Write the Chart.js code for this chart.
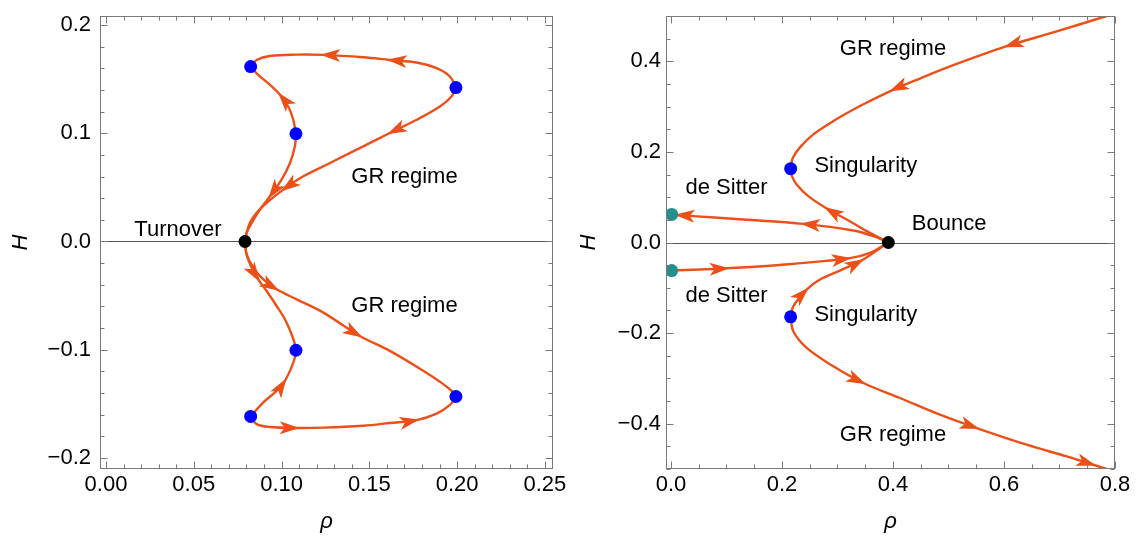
<!DOCTYPE html>
<html>
<head>
<meta charset="utf-8">
<script src="https://cdn.jsdelivr.net/npm/chart.js@4.4.1/dist/chart.umd.min.js"></script>
<style>
  body { margin: 0; background: #fff; }
  .panel { position: absolute; top: 0; width: 568px; height: 539px; }
</style>
</head>
<body>
<div class="panel" style="left:0"><canvas id="leftChart" width="568" height="539"></canvas></div>
<div class="panel" style="left:568px"><canvas id="rightChart" width="568" height="539"></canvas></div>
<script>
// ---- tick values and labels ----
const leftRhoTicks = [0, 0.05, 0.1, 0.15, 0.2, 0.25];
const leftRhoLabels = ['0.00', '0.05', '0.10', '0.15', '0.20', '0.25'];
const leftHTicks = [-0.2, -0.1, 0, 0.1, 0.2];
const leftHLabels = ['\u22120.2', '\u22120.1', '0.0', '0.1', '0.2'];
const rightRhoTicks = [0, 0.2, 0.4, 0.6, 0.8];
const rightRhoLabels = ['0.0', '0.2', '0.4', '0.6', '0.8'];
const rightHTicks = [-0.4, -0.2, 0, 0.2, 0.4];
const rightHLabels = ['\u22120.4', '\u22120.2', '0.0', '0.2', '0.4'];

// ---- left panel trajectories [rho, H], in the direction of flow ----
const upOuterTop = [[0.1993,0.1422],[0.1959,0.1524],[0.1883,0.1601],[0.1769,0.1653],[0.1617,0.1677],[0.1465,0.1702],[0.1238,0.1724],[0.1086,0.1726],[0.0934,0.1714],[0.0858,0.1677],[0.0824,0.1616]];
const upInnerUp = [[0.1082,0.0995],[0.1067,0.1124],[0.1038,0.1247],[0.0991,0.1355],[0.0934,0.1447],[0.0867,0.1539],[0.0824,0.1616]];
const upInnerDown = [[0.1082,0.0995],[0.1076,0.0879],[0.1048,0.0725],[0.1000,0.0571],[0.0934,0.0418],[0.0877,0.0295],[0.0830,0.0172],[0.0801,0.0080],[0.0792,0]];
const upOuterDown = [[0.1993,0.1422],[0.1968,0.1339],[0.1902,0.1247],[0.1769,0.1124],[0.1617,0.1002],[0.1465,0.0879],[0.1276,0.0725],[0.1124,0.0602],[0.1010,0.0479],[0.0915,0.0357],[0.0858,0.0265],[0.0820,0.0172],[0.0801,0.0080],[0.0792,0]];
const lowOuterBottom = [[0.0824,-0.1616],[0.0858,-0.1687],[0.0934,-0.1714],[0.1086,-0.1723],[0.1238,-0.1720],[0.1465,-0.1702],[0.1617,-0.1677],[0.1769,-0.1650],[0.1883,-0.1590],[0.1959,-0.1510],[0.1993,-0.1432]];
const lowInnerUp = [[0.0824,-0.1616],[0.0896,-0.1487],[0.0972,-0.1380],[0.1019,-0.1287],[0.1052,-0.1180],[0.1076,-0.1072],[0.1082,-0.1005]];
const lowInnerDown = [[0.0792,0],[0.0801,-0.0120],[0.0830,-0.0243],[0.0867,-0.0350],[0.0915,-0.0458],[0.0972,-0.0596],[0.1019,-0.0719],[0.1057,-0.0857],[0.1076,-0.0949],[0.1082,-0.1005]];
const lowOuterDown = [[0.0792,0],[0.0801,-0.0120],[0.0839,-0.0243],[0.0896,-0.0350],[0.0972,-0.0442],[0.1086,-0.0535],[0.1238,-0.0657],[0.1446,-0.0873],[0.1617,-0.1011],[0.1807,-0.1195],[0.1921,-0.1318],[0.1978,-0.1394],[0.1993,-0.1432]];
const leftSingDots = [[0.0824,0.1616],[0.1082,0.0995],[0.1993,0.1422],[0.0824,-0.1616],[0.1082,-0.1005],[0.1993,-0.1432]];
const leftTurnover = [[0.0792,0]];

// ---- right panel trajectories ----
const upGR = [[0.800,0.506],[0.785,0.500],[0.6889,0.4638],[0.6048,0.4333],[0.5087,0.3913],[0.4486,0.3620],[0.3980,0.3360],[0.3405,0.3012],[0.2925,0.2681],[0.2565,0.2387],[0.2324,0.2100],[0.2192,0.1860],[0.2156,0.1629]];
const bounceToUpSing = [[0.3916,0],[0.3526,0.0250],[0.3166,0.0508],[0.2805,0.0751],[0.2474,0.1023],[0.2264,0.1282],[0.2180,0.1465],[0.2156,0.1629]];
const bounceToUpDS = [[0.3916,0],[0.3646,0.0140],[0.3285,0.0265],[0.2384,0.0412],[0.1303,0.0508],[0.0402,0.0582],[0.0120,0.0608],[0.0012,0.0619]];
const lowDSToBounce = [[-0.0108,-0.0619],[0.0012,-0.0619],[0.1000,-0.0570],[0.1904,-0.0501],[0.3200,-0.0350],[0.3586,-0.0228],[0.3916,0]];
const lowSingToBounce = [[0.2156,-0.1640],[0.2204,-0.1407],[0.2444,-0.1039],[0.2685,-0.0818],[0.3045,-0.0619],[0.3435,-0.0398],[0.3706,-0.0177],[0.3916,0]];
const lowSingToGR = [[0.2156,-0.1640],[0.2204,-0.1960],[0.2445,-0.2328],[0.2925,-0.2733],[0.3465,-0.3101],[0.4126,-0.3433],[0.4847,-0.3801],[0.5508,-0.4096],[0.6408,-0.4464],[0.7129,-0.4722],[0.7610,-0.4906],[0.800,-0.506]];
const rightSingDots = [[0.2156,0.1629],[0.2156,-0.1640]];
const rightBounce = [[0.3916,0]];
const rightDeSitter = [[0.0012,0.0619],[0.0012,-0.0619]];

const curveColor = 'rgb(236,80,24)';
const frameColor = '#7a7a7a';

Chart.defaults.font.family = "'Liberation Sans', Arial, sans-serif";
Chart.defaults.font.size = 22;
Chart.defaults.color = '#000';

const toXY = pts => pts.map(p => ({ x: p[0], y: p[1] }));

function curve(pts, arrowAt) {
  return {
    data: toXY(pts), showLine: true, borderColor: curveColor, borderWidth: 2.4,
    pointRadius: 0, tension: 0.35, fill: false, arrowAt: arrowAt, order: 2
  };
}
function dots(pts, color) {
  return {
    data: toXY(pts), showLine: false, pointRadius: 6.5, pointBackgroundColor: color,
    pointBorderWidth: 0, order: 1
  };
}

function drawArrow(ctx, x, y, dx, dy) {
  const d = Math.hypot(dx, dy) || 1, ux = dx / d, uy = dy / d;
  const L = 17, W = 6.5, N = 12;
  ctx.beginPath();
  ctx.moveTo(x + ux * 3, y + uy * 3);
  ctx.lineTo(x - ux * L - uy * W, y - uy * L + ux * W);
  ctx.lineTo(x - ux * N, y - uy * N);
  ctx.lineTo(x - ux * L + uy * W, y - uy * L - ux * W);
  ctx.closePath();
  ctx.fill();
}

// zero line, arrowheads, frame with inward ticks, and text labels
const phasePlugin = {
  id: 'phase',
  beforeDatasetsDraw(chart, args, opts) {
    const { ctx, chartArea: a, scales: { x, y } } = chart;
    ctx.save();
    ctx.strokeStyle = '#555';
    ctx.lineWidth = 1;
    const y0 = Math.round(y.getPixelForValue(0)) + 0.5;
    ctx.beginPath(); ctx.moveTo(a.left, y0); ctx.lineTo(a.right, y0); ctx.stroke();
    ctx.fillStyle = curveColor;
    chart.data.datasets.forEach(ds => {
      (ds.arrowAt || []).forEach(i => {
        const p = ds.data;
        const px = k => [x.getPixelForValue(p[k].x), y.getPixelForValue(p[k].y)];
        const b = px(Math.max(i - 1, 0)), f = px(Math.min(i + 1, p.length - 1)), t = px(i);
        drawArrow(ctx, t[0], t[1], f[0] - b[0], f[1] - b[1]);
      });
    });
    ctx.restore();
  },
  afterDraw(chart, args, opts) {
    const { ctx, chartArea: a, scales: { x, y } } = chart;
    ctx.save();
    ctx.strokeStyle = frameColor;
    ctx.lineWidth = 1;
    const L = Math.round(a.left) + 0.5, R = Math.round(a.right) - 0.5;
    const T = Math.round(a.top) + 0.5, B = Math.round(a.bottom) - 0.5;
    ctx.strokeRect(L, T, R - L, B - T);
    ctx.beginPath();
    const eps = 1e-9;
    for (let k = Math.ceil(x.min / opts.xMinor - eps); k * opts.xMinor <= x.max + eps; k++) {
      const v = k * opts.xMinor;
      const r = v / opts.xMajor, len = Math.abs(r - Math.round(r)) < 1e-6 ? 7 : 4;
      const p = Math.round(x.getPixelForValue(v)) + 0.5;
      ctx.moveTo(p, B); ctx.lineTo(p, B - len);
      ctx.moveTo(p, T); ctx.lineTo(p, T + len);
    }
    for (let k = Math.ceil(y.min / opts.yMinor - eps); k * opts.yMinor <= y.max + eps; k++) {
      const v = k * opts.yMinor;
      const r = v / opts.yMajor, len = Math.abs(r - Math.round(r)) < 1e-6 ? 7 : 4;
      const p = Math.round(y.getPixelForValue(v)) + 0.5;
      ctx.moveTo(L, p); ctx.lineTo(L + len, p);
      ctx.moveTo(R, p); ctx.lineTo(R - len, p);
    }
    ctx.stroke();
    ctx.fillStyle = '#000';
    ctx.font = "22px 'Liberation Sans', Arial, sans-serif";
    ctx.textAlign = 'center';
    ctx.textBaseline = 'middle';
    opts.labels.forEach(l => ctx.fillText(l.text, x.getPixelForValue(l.x), y.getPixelForValue(l.y)));
    ctx.restore();
  }
};

function makeOptions(cfg) {
  return {
    responsive: false,
    animation: false,
    layout: { padding: { top: 16, right: cfg.padRight, left: 0, bottom: 0 } },
    plugins: {
      legend: { display: false },
      tooltip: { enabled: false },
      phase: cfg.phase
    },
    scales: {
      x: {
        type: 'linear', min: cfg.xMin, max: cfg.xMax,
        grid: { display: false, drawTicks: false }, border: { display: false },
        afterBuildTicks: s => { s.ticks = cfg.xTicks.map(v => ({ value: v })); },
        afterFit: s => { s.height = 70; s.paddingLeft = 0; s.paddingRight = 0; },
        ticks: { padding: 3, maxRotation: 0, autoSkip: false, callback: (v, i) => cfg.xLabels[i] },
        title: { display: true, text: '\u03C1', font: { style: 'italic', size: 22 }, padding: { top: 0, bottom: 4 } }
      },
      y: {
        type: 'linear', min: cfg.yMin, max: cfg.yMax,
        grid: { display: false, drawTicks: false }, border: { display: false },
        afterBuildTicks: s => { s.ticks = cfg.yTicks.map(v => ({ value: v })); },
        afterFit: s => { s.width = cfg.yWidth; s.paddingTop = 0; s.paddingBottom = 0; },
        ticks: { padding: cfg.yPad, autoSkip: false, callback: (v, i) => cfg.yLabels[i] },
        title: { display: true, text: 'H', font: { style: 'italic', size: 22 }, padding: { top: 8, bottom: 0 } }
      }
    }
  };
}

// Left panel: turnover
new Chart(document.getElementById('leftChart'), {
  type: 'scatter',
  data: {
    datasets: [
      curve(upOuterTop, [4, 6]),
      curve(upInnerUp, [3]),
      curve(upInnerDown, [4]),
      curve(upOuterDown, [4, 8]),
      curve(lowOuterBottom, [3, 7]),
      curve(lowInnerUp, [3]),
      curve(lowInnerDown, [3]),
      curve(lowOuterDown, [4, 7]),
      dots(leftSingDots, '#0000ff'),
      dots(leftTurnover, '#000000')
    ]
  },
  plugins: [phasePlugin],
  options: makeOptions({
    padRight: 15, yWidth: 100, yPad: 9,
    xMin: -0.0034, xMax: 0.2546, yMin: -0.2102, yMax: 0.2083,
    xTicks: leftRhoTicks, xLabels: leftRhoLabels, yTicks: leftHTicks, yLabels: leftHLabels,
    phase: {
      xMinor: 0.01, xMajor: 0.05, yMinor: 0.02, yMajor: 0.1,
      labels: [
        { text: 'Turnover', x: 0.041, y: 0.011 },
        { text: 'GR regime', x: 0.170, y: 0.060 },
        { text: 'GR regime', x: 0.170, y: -0.060 }
      ]
    }
  })
});

// Right panel: bounce
new Chart(document.getElementById('rightChart'), {
  type: 'scatter',
  data: {
    datasets: [
      curve(upGR, [3, 6]),
      curve(bounceToUpSing, [3]),
      curve(bounceToUpDS, [3, 6]),
      curve(lowDSToBounce, [2, 4]),
      curve(lowSingToBounce, [2, 5]),
      curve(lowSingToGR, [4, 7, 10]),
      dots(rightSingDots, '#0000ff'),
      dots(rightBounce, '#000000'),
      dots(rightDeSitter, '#23908a')
    ]
  },
  plugins: [phasePlugin],
  options: makeOptions({
    padRight: 21, yWidth: 98, yPad: 5,
    xMin: -0.009, xMax: 0.8, yMin: -0.5, yMax: 0.5,
    xTicks: rightRhoTicks, xLabels: rightRhoLabels, yTicks: rightHTicks, yLabels: rightHLabels,
    phase: {
      xMinor: 0.05, xMajor: 0.2, yMinor: 0.05, yMajor: 0.2,
      labels: [
        { text: 'GR regime', x: 0.400, y: 0.4265 },
        { text: 'Singularity', x: 0.351, y: 0.169 },
        { text: 'de Sitter', x: 0.100, y: 0.121 },
        { text: 'Bounce', x: 0.501, y: 0.041 },
        { text: 'de Sitter', x: 0.100, y: -0.119 },
        { text: 'Singularity', x: 0.351, y: -0.159 },
        { text: 'GR regime', x: 0.400, y: -0.424 }
      ]
    }
  })
});
</script>
</body>
</html>
